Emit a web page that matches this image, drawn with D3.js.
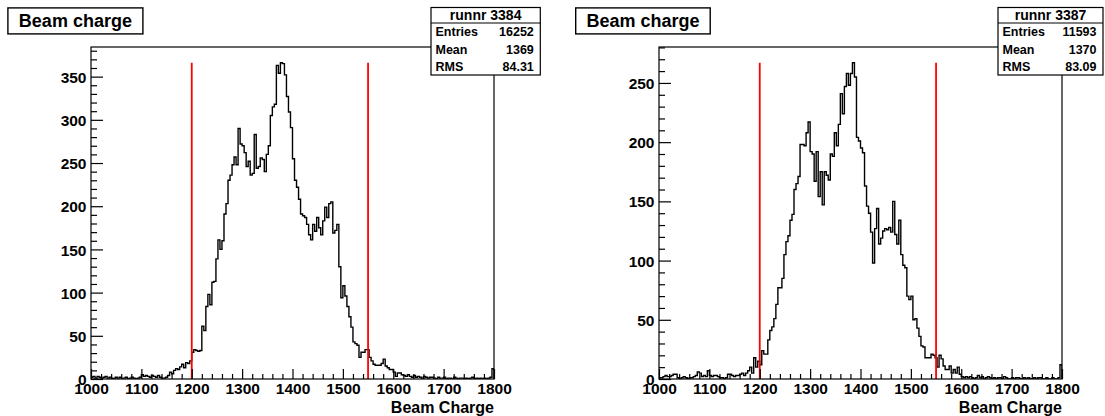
<!DOCTYPE html>
<html><head><meta charset="utf-8">
<script src="https://cdn.jsdelivr.net/npm/d3@7"></script>
<style>
html,body{margin:0;padding:0;background:#fff;}
svg{display:block;}
text{font-family:"Liberation Sans",Arial,Helvetica,sans-serif;font-weight:bold;fill:#000;}
</style></head>
<body>
<script>
// ---------------- data ----------------
const xRange = [1000, 1800];          // histogram axis range
const binWidth = 4;                   // 200 bins
const cutValues = [1200, 1550];       // red cut lines
const xTickLabels = [1000,1100,1200,1300,1400,1500,1600,1700,1800];
const histTitle = "Beam charge";
const xAxisTitle = "Beam Charge";
const runTitles = ["runnr 3384", "runnr 3387"];
const statLabels = ["Entries", "Mean", "RMS"];
const statValues3384 = ["16252", "1369", "84.31"];
const statValues3387 = ["11593", "1370", "83.09"];
const yTicks3384 = [0,50,100,150,200,250,300,350];
const yTicks3387 = [0,50,100,150,200,250];

const counts3384 = [
 2,3,1,3,2,1,2,3,1,2, 1,0,2,1,2,1,1,2,0,1, 2,1,0,1,2,
 5,3,4,3,2,4,3,2,4,2,1,1,2,
 4,8,6,10,12,11,14,17,13,19,18,21,
 31,34,33,32,33,
 61,56,84,98,86,112,113,139,161,150,160,191,203,230,236,
 248,257,248,290,272,270,262,246,252,236,238,283,244,246,256,254,240,260,270,305,
 315,318,363,354,366,365,352,327,309,291,255,230,222,208,191,189,187,179,167,161,
 179,171,187,175,167,183,199,187,203,205,169,172,179,130,94,108,96,84,72,60,
 43,41,39,25,31,31,34,34,25,21,17,16,16,16,18,23,15,13,11,11,
 8,3,7,7,
 5,4,3,5,3,2,4,2,3,2, 1,3,2,1,2,2,1,0,2,1, 1,2,0,1,1,0,2,1,0,1, 1,0,1,0,1,2,0,1,0,1, 0,1,0,1,2,12
];

const counts3387 = [
 1,1,2,3,2,2,3,4,4,1, 0,1,2,1,0,1,1,2,3,6, 5,2,3,2,7,3,2,3,3,2, 1,
 1,0,1,4,4,3,2,3,3,4,5,3,5,7,
 10,5,18,10,15,12,24,21,21,33,41,44,51,63,77,
 77,85,105,116,121,134,139,160,165,171,198,198,197,208,217,192,190,167,192,154,
 175,147,175,172,168,190,188,208,197,215,241,224,247,258,248,258,267,255,204,201,
 195,191,163,146,140,124,98,127,144,114,119,125,127,126,128,124,150,122,114,134,
 105,96,94,70,67,70,50,51,43,36,28,27,18,18,18,21,20,18,10,20,
 17,11,8,8,11,5,8,5,10,4,2,
 1,2,1,2,1,0,1,3,1,2, 0,1,2,1,0,1,0,1,1,0, 2,1,0,0,1,0,1,1,0,0, 1,0,1,0,0,1,0,1,1,0, 0,1,0,0,1,0,0,1,12
];

// ---------------- layout ----------------
const W = 1105, H = 416;
const svg = d3.select("body").append("svg").attr("width", W).attr("height", H);

const panels = [
  {counts: counts3384, yTicks: yTicks3384, run: runTitles[0], stats: statValues3384,
   fx0: 91, fx1: 494, titleBox: [7.9, 7.9, 135, 26], statBox: [431, 7.5, 109.3, 67.5]},
  {counts: counts3387, yTicks: yTicks3387, run: runTitles[1], stats: statValues3387,
   fx0: 659, fx1: 1062, titleBox: [575.7, 7.9, 134.5, 26], statBox: [998, 7.5, 105, 67.5]}
];
const fy0 = 47, fy1 = 379;

panels.forEach((p, pi) => {
  const g = svg.append("g");
  const maxC = d3.max(p.counts);
  const x = d3.scaleLinear().domain(xRange).range([p.fx0, p.fx1]);
  const y = d3.scaleLinear().domain([0, maxC * 1.05]).range([fy1, fy0]);

  const clipId = "clip" + pi;
  svg.append("clipPath").attr("id", clipId).append("rect")
    .attr("x", p.fx0).attr("y", fy0).attr("width", p.fx1 - p.fx0).attr("height", fy1 - fy0);

  // histogram outline (step)
  const pts = [{x: xRange[0], c: 0}];
  p.counts.forEach((c, i) => pts.push({x: xRange[0] + i * binWidth, c}));
  pts.push({x: xRange[1], c: p.counts[p.counts.length - 1]});
  pts.push({x: xRange[1], c: 0});
  const line = d3.line().x(d => x(d.x)).y(d => y(d.c)).curve(d3.curveStepAfter);
  g.append("path").attr("d", line(pts)).attr("fill", "none")
    .attr("stroke", "#000").attr("stroke-width", 1.4).attr("clip-path", `url(#${clipId})`);

  // red cut lines
  cutValues.forEach(v => {
    g.append("line").attr("x1", x(v)).attr("x2", x(v)).attr("y1", y(0)).attr("y2", y(maxC))
      .attr("stroke", "#ff0000").attr("stroke-width", 1.8);
  });

  // frame
  g.append("rect").attr("x", p.fx0).attr("y", fy0).attr("width", p.fx1 - p.fx0).attr("height", fy1 - fy0)
    .attr("fill", "none").attr("stroke", "#000").attr("stroke-width", 1.2);

  // x axis
  const xMajor = d3.axisBottom(x).tickValues(xTickLabels).tickSizeInner(-10).tickSizeOuter(0)
    .tickPadding(4).tickFormat(d3.format("d"));
  const xa = g.append("g").attr("transform", `translate(0,${fy1})`).call(xMajor);
  const xMinorVals = d3.range(xRange[0], xRange[1] + 1, 20).filter(v => v % 100 !== 0);
  const xb = g.append("g").attr("transform", `translate(0,${fy1})`)
    .call(d3.axisBottom(x).tickValues(xMinorVals).tickSizeInner(-5).tickSizeOuter(0).tickFormat(""));
  // y axis
  const ya = g.append("g").attr("transform", `translate(${p.fx0},0)`)
    .call(d3.axisLeft(y).tickValues(p.yTicks).tickSizeInner(-12).tickSizeOuter(0).tickPadding(4.5).tickFormat(d3.format("d")));
  const yMinorVals = d3.range(0, maxC * 1.05, 10).filter(v => v % 50 !== 0);
  const yb = g.append("g").attr("transform", `translate(${p.fx0},0)`)
    .call(d3.axisLeft(y).tickValues(yMinorVals).tickSizeInner(-6).tickSizeOuter(0).tickFormat(""));
  [xa, xb, ya, yb].forEach(a => {
    a.select(".domain").remove();
    a.selectAll("line").attr("stroke", "#000").attr("stroke-width", 1.2);
    a.selectAll("text").style("font-family", '"Liberation Sans",Arial,sans-serif')
      .style("font-weight", "bold").style("font-size", "15.5px").attr("fill", "#000");
  });
  ya.selectAll("text").attr("dy", "0.36em");

  // x axis title
  g.append("text").attr("x", p.fx1).attr("y", 412.5).attr("text-anchor", "end")
    .style("font-size", "16px").text(xAxisTitle);

  // title box
  const tb = p.titleBox;
  g.append("rect").attr("x", tb[0]).attr("y", tb[1]).attr("width", tb[2]).attr("height", tb[3])
    .attr("fill", "#fff").attr("stroke", "#000").attr("stroke-width", 1.4);
  g.append("text").attr("x", tb[0] + tb[2] / 2).attr("y", tb[1] + 19.3).attr("text-anchor", "middle")
    .style("font-size", "18px").text(histTitle);

  // stats box
  const sb = p.statBox;
  g.append("rect").attr("x", sb[0]).attr("y", sb[1]).attr("width", sb[2]).attr("height", sb[3])
    .attr("fill", "#fff").attr("stroke", "#000").attr("stroke-width", 1.2);
  const hdrH = 15.5;
  g.append("line").attr("x1", sb[0]).attr("x2", sb[0] + sb[2]).attr("y1", sb[1] + hdrH).attr("y2", sb[1] + hdrH)
    .attr("stroke", "#000").attr("stroke-width", 1.2);
  g.append("text").attr("x", sb[0] + sb[2] / 2).attr("y", sb[1] + 12.5).attr("text-anchor", "middle")
    .style("font-size", "14px").text(p.run);
  const rowH = (sb[3] - hdrH) / 3;
  statLabels.forEach((lab, i) => {
    const by = sb[1] + hdrH + rowH * i + rowH / 2 + 4.5;
    g.append("text").attr("x", sb[0] + 4.5).attr("y", by).style("font-size", "12.5px").text(lab);
    g.append("text").attr("x", sb[0] + sb[2] - 6.5).attr("y", by).attr("text-anchor", "end")
      .style("font-size", "12.5px").text(p.stats[i]);
  });
});
</script>
</body></html>
